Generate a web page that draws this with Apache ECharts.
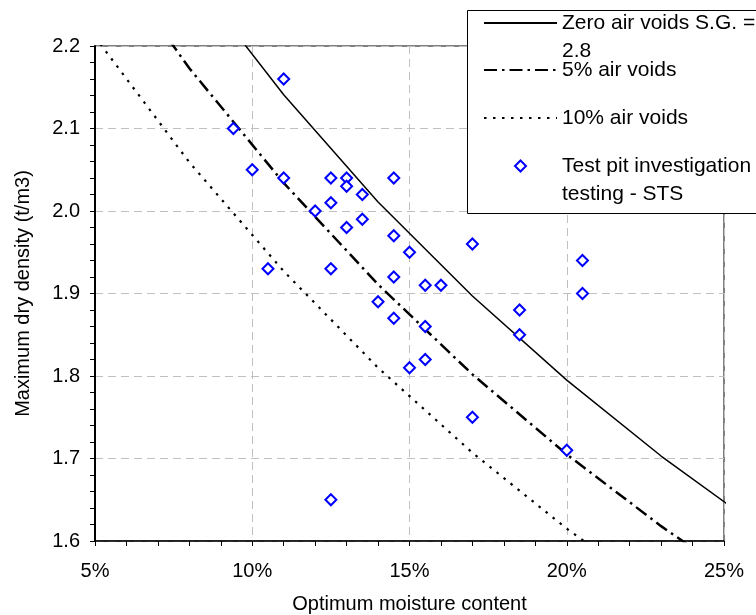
<!DOCTYPE html>
<html>
<head>
<meta charset="utf-8">
<script src="https://cdn.jsdelivr.net/npm/echarts@6/dist/echarts.min.js"></script>
<style>
  html, body { margin: 0; padding: 0; background: #fff; }
  #chart { width: 756px; height: 615px; }
</style>
</head>
<body>
<div id="chart"></div>
<script>
// Compaction curves (S.G. = 2.8) sampled every 3 % moisture
const curveMoisture = [5, 8, 11, 14, 17, 20, 23, 26];
const zeroAirVoids = [2.456, 2.288, 2.141, 2.011, 1.897, 1.795, 1.703, 1.620];
const airVoids5 = [2.333, 2.173, 2.034, 1.911, 1.802, 1.705, 1.618, 1.539];
const airVoids10 = [2.211, 2.059, 1.927, 1.810, 1.707, 1.615, 1.533, 1.458];

// Test pit results: optimum moisture content (%) and maximum dry density (t/m3)
const testMoisture = [11, 9.4, 10, 11, 12.5, 13, 13, 13.5, 14.5, 12.5, 12, 13.5, 13, 14.5, 17, 15,
  10.5, 12.5, 20.5, 14.5, 15.5, 16, 20.5, 14, 18.5, 14.5, 15.5, 18.5, 15.5, 15, 17, 20, 12.5];
const testDensity = [2.16, 2.10, 2.05, 2.04, 2.04, 2.04, 2.03, 2.02, 2.04, 2.01, 2.00, 1.99, 1.98, 1.97, 1.96, 1.95,
  1.93, 1.93, 1.94, 1.92, 1.91, 1.91, 1.90, 1.89, 1.88, 1.87, 1.86, 1.85, 1.82, 1.81, 1.75, 1.71, 1.65];

const seriesNames = ['Zero air voids S.G. = 2.8', '5% air voids', '10% air voids', 'Test pit investigation testing - STS'];
// Two-line entries start with an empty line so the first line sits level with the key
const legendLabels = ['\nZero air voids S.G. =\n2.8', '5% air voids', '10% air voids', '\nTest pit investigation\ntesting - STS'];

const xTicks = { min: 5, max: 25, step: 5 };
const yTicks = { min: 1.6, max: 2.2, step: 0.1 };

const FONT = '"Liberation Sans", Arial, sans-serif';
const MARKER_BLUE = '#0000ff';
const DIAMOND_PATH = 'path://M0,-1L1,0L0,1L-1,0Z';

function pairs(xs, ys) {
  return xs.map((x, i) => [x, ys[i]]);
}

const chart = echarts.init(document.getElementById('chart'), null, { renderer: 'canvas' });

function legendFor(index, left, top, itemHeight, entry) {
  return {
    data: [Object.assign({ name: seriesNames[index] }, entry)],
    orient: 'vertical',
    left: left,
    top: top,
    padding: 0,
    itemWidth: 73,
    itemHeight: itemHeight,
    selectedMode: false,
    symbolKeepAspect: true,
    formatter: () => legendLabels[index],
    textStyle: {
      fontFamily: FONT,
      fontSize: 21,
      lineHeight: 28,
      color: '#000'
    }
  };
}

const hiddenKeySymbol = { itemStyle: { opacity: 0 } };

const option = {
  animation: false,
  backgroundColor: '#fff',
  grid: {
    left: 95,
    right: 32,
    top: 46,
    bottom: 74,
    outerBoundsMode: 'none',
    show: true,
    borderColor: '#000',
    borderWidth: 1,
    backgroundColor: 'transparent'
  },
  xAxis: {
    type: 'value',
    min: xTicks.min,
    max: xTicks.max,
    interval: xTicks.step,
    name: 'Optimum moisture content',
    nameLocation: 'middle',
    nameGap: 53,
    nameTextStyle: { fontFamily: FONT, fontSize: 20, color: '#000' },
    axisLine: { lineStyle: { color: '#000', width: 1.5 } },
    axisTick: { show: true, length: 5, inside: false, lineStyle: { color: '#000', width: 1 } },
    minorTick: { show: true, splitNumber: 5, length: 5, lineStyle: { color: '#000', width: 1 } },
    axisLabel: {
      margin: 20,
      fontFamily: FONT,
      fontSize: 20,
      color: '#000',
      formatter: '{value}%'
    },
    splitLine: { show: true, lineStyle: { color: '#c0c0c0', width: 1, type: [8, 5] } }
  },
  yAxis: {
    type: 'value',
    min: yTicks.min,
    max: yTicks.max,
    interval: yTicks.step,
    name: 'Maximum dry density (t/m3)',
    nameLocation: 'middle',
    nameGap: 62,
    nameTextStyle: { fontFamily: FONT, fontSize: 20, color: '#000' },
    axisLine: { show: true, lineStyle: { color: '#000', width: 2 } },
    axisTick: { show: true, length: 5, inside: false, lineStyle: { color: '#000', width: 1 } },
    minorTick: { show: true, splitNumber: 5, length: 5, lineStyle: { color: '#000', width: 1 } },
    axisLabel: {
      margin: 15,
      fontFamily: FONT,
      fontSize: 20,
      color: '#000',
      formatter: v => v.toFixed(1)
    },
    splitLine: { show: true, lineStyle: { color: '#c0c0c0', width: 1, type: [8, 5] } }
  },
  legend: [
    legendFor(0, 483, -19, 14, hiddenKeySymbol),
    legendFor(1, 483, 56, 14, hiddenKeySymbol),
    legendFor(2, 483, 104, 14, hiddenKeySymbol),
    // the diamond key is drawn at the centre of its slot, so the slot is shifted to keep it in line
    legendFor(3, 514, 124, 11, {
      icon: DIAMOND_PATH,
      itemStyle: { color: '#fff', borderColor: MARKER_BLUE, borderWidth: 2, opacity: 1 }
    })
  ],
  graphic: [{
    type: 'rect',
    z: 3,
    shape: { x: 467.5, y: 10.5, width: 320, height: 203 },
    style: { fill: '#fff', stroke: '#000', lineWidth: 1 }
  }],
  series: [
    {
      name: seriesNames[0],
      type: 'line',
      data: pairs(curveMoisture, zeroAirVoids),
      symbol: 'none',
      clip: true,
      color: '#000',
      lineStyle: { color: '#000', width: 1.5, type: 'solid' },
      z: 2
    },
    {
      name: seriesNames[1],
      type: 'line',
      data: pairs(curveMoisture, airVoids5),
      symbol: 'none',
      clip: true,
      color: '#000',
      lineStyle: { color: '#000', width: 2.5, type: [13, 5, 2.5, 5] },
      z: 2
    },
    {
      name: seriesNames[2],
      type: 'line',
      data: pairs(curveMoisture, airVoids10),
      symbol: 'none',
      clip: true,
      color: '#000',
      lineStyle: { color: '#000', width: 2.2, type: [2.5, 6.5] },
      z: 2
    },
    {
      name: seriesNames[3],
      type: 'scatter',
      data: pairs(testMoisture, testDensity),
      symbol: 'diamond',
      symbolSize: 11,
      itemStyle: { color: '#fff', borderColor: MARKER_BLUE, borderWidth: 2, opacity: 1 },
      z: 3
    }
  ]
};

chart.setOption(option);
</script>
</body>
</html>
